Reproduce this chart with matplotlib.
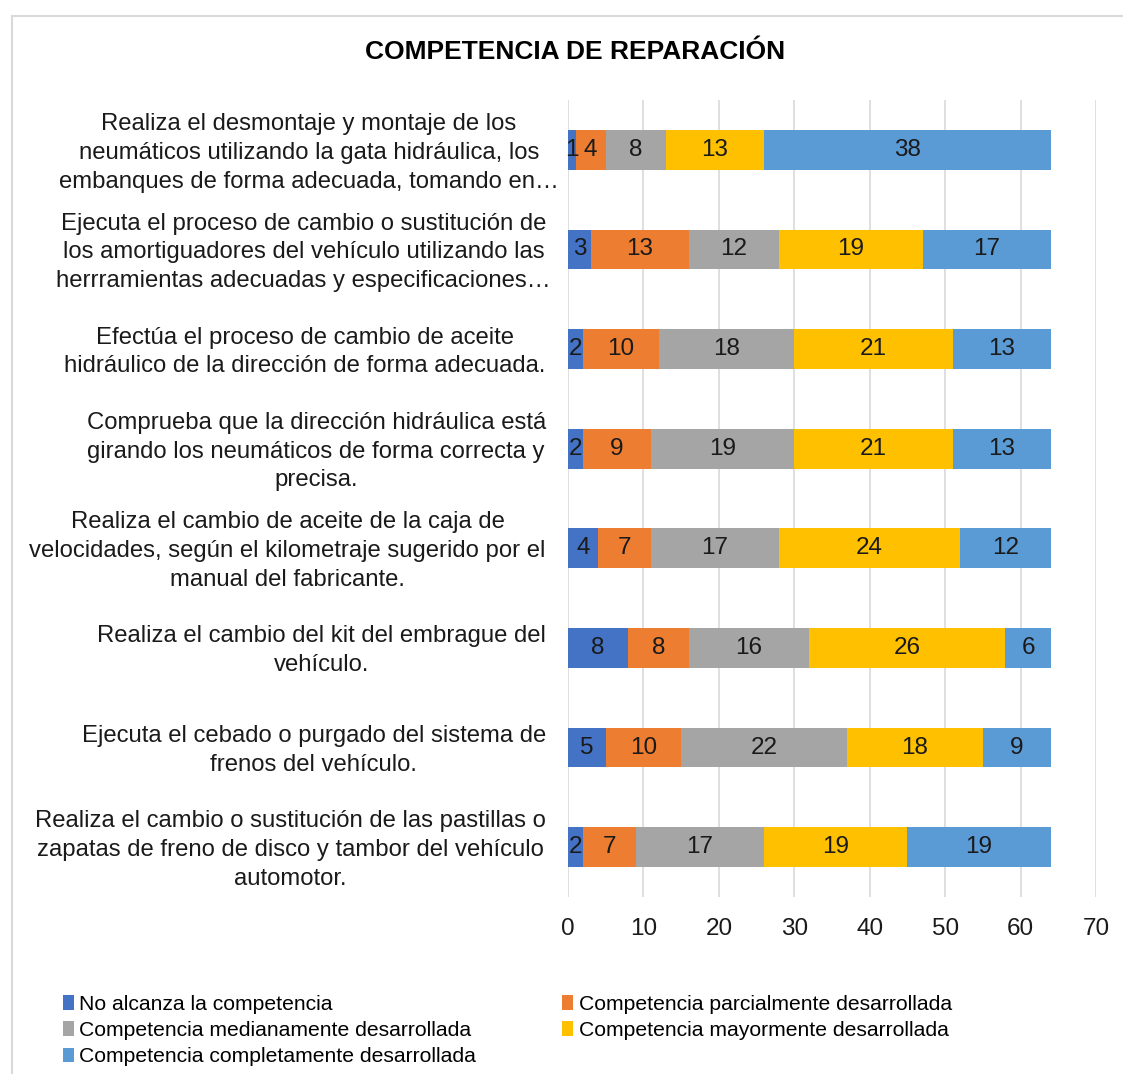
import matplotlib
matplotlib.use("Agg")
import matplotlib.pyplot as plt
from matplotlib.patches import Rectangle
from matplotlib.transforms import ScaledTranslation
import numpy as np

plt.rcParams['font.family'] = ['Liberation Sans', 'DejaVu Sans']

categories = [
    "Realiza el desmontaje y montaje de los\nneumáticos utilizando la gata hidráulica, los\nembanques de forma adecuada, tomando en…",
    "Ejecuta el proceso de cambio o sustitución de\nlos amortiguadores del vehículo utilizando las\nherrramientas adecuadas y especificaciones…",
    "Efectúa el proceso de cambio de aceite\nhidráulico de la dirección de forma adecuada.",
    "Comprueba que la dirección hidráulica está\ngirando los neumáticos de forma correcta y\nprecisa.",
    "Realiza el cambio de aceite de la caja de\nvelocidades, según el kilometraje sugerido por el\nmanual del fabricante.",
    "Realiza el cambio del kit del embrague del\nvehículo.",
    "Ejecuta el cebado o purgado del sistema de\nfrenos del vehículo.",
    "Realiza el cambio o sustitución de las pastillas o\nzapatas de freno de disco y tambor del vehículo\nautomotor.",
]
series_names = [
    "No alcanza la competencia",
    "Competencia parcialmente desarrollada",
    "Competencia medianamente desarrollada",
    "Competencia mayormente desarrollada",
    "Competencia completamente desarrollada",
]
no_alcanza = [1, 3, 2, 2, 4, 8, 5, 2]
parcial = [4, 13, 10, 9, 7, 8, 10, 7]
mediana = [8, 12, 18, 19, 17, 16, 22, 17]
mayor = [13, 19, 21, 21, 24, 26, 18, 19]
completa = [38, 17, 13, 13, 12, 6, 9, 19]
colors = ["#4472C4", "#ED7D31", "#A5A5A5", "#FFC000", "#5B9BD5"]
x_ticks = [0, 10, 20, 30, 40, 50, 60, 70]

W, H = 1123, 1074
fig = plt.figure(figsize=(W / 100, H / 100), dpi=100)
fig.patches.append(Rectangle((12 / W, -0.05), 1.2, 1 - 16 / H + 0.05,
                             transform=fig.transFigure, fill=False,
                             edgecolor="#D9D9D9", linewidth=1.5))

ax = fig.add_axes([568 / W, 1 - 897 / H, (1096 - 568) / W, (897 - 100) / H])
ax.set_facecolor("none")

y = np.arange(len(categories))
left = np.zeros(len(categories))
all_series = [no_alcanza, parcial, mediana, mayor, completa]
handles = []
for name, vals, col in zip(series_names, all_series, colors):
    vals = np.array(vals, dtype=float)
    bars = ax.barh(y, vals, left=left, height=0.4, color=col, label=name, zorder=3)
    handles.append(bars)
    ax.bar_label(bars, labels=[str(int(v)) for v in vals], label_type='center',
                 fontsize=17.5, color="#1a1a1a", zorder=4)
    left += vals

ax.set_ylim(len(categories) - 0.5, -0.5)
ax.set_xlim(0, 70)
ax.set_xticks(x_ticks)
ax.set_xticklabels([str(t) for t in x_ticks], fontsize=17.5, color="#1a1a1a")
ax.set_yticks(y)
ax.set_yticklabels(categories, fontsize=17.2, color="#1a1a1a", ha='right',
                   multialignment='center', linespacing=1.4)
ax.tick_params(axis='y', length=0, pad=16)
ax.tick_params(axis='x', length=0, pad=15)
ax.grid(axis='x', color="#D9D9D9", linewidth=1.2, zorder=0)
for s in ax.spines.values():
    s.set_visible(False)

# fine position nudges of the category labels (in pixels)
label_dx = [13, 5, 0, 0, 0, 0, 0, 0]
for lab, dx in zip(ax.get_yticklabels(), label_dx):
    lab.set_transform(lab.get_transform() +
                      ScaledTranslation(dx / 100, 3 / 100, fig.dpi_scale_trans))

fig.text(575 / W, 1 - 52 / H, "COMPETENCIA DE REPARACIÓN", ha='center', va='center',
         fontsize=19, fontweight='bold', color="#000000")

order = [0, 2, 4, 1, 3]
fig.legend([handles[i] for i in order], [series_names[i] for i in order],
           loc='upper left', bbox_to_anchor=(63 / W, 1 - 995 / H), ncol=2,
           frameon=False, fontsize=15.2, handlelength=0.5, handleheight=0.7,
           handletextpad=0.28, columnspacing=4.07, labelspacing=0.34,
           borderaxespad=0, borderpad=0)

fig.savefig("out.png", dpi=100)
